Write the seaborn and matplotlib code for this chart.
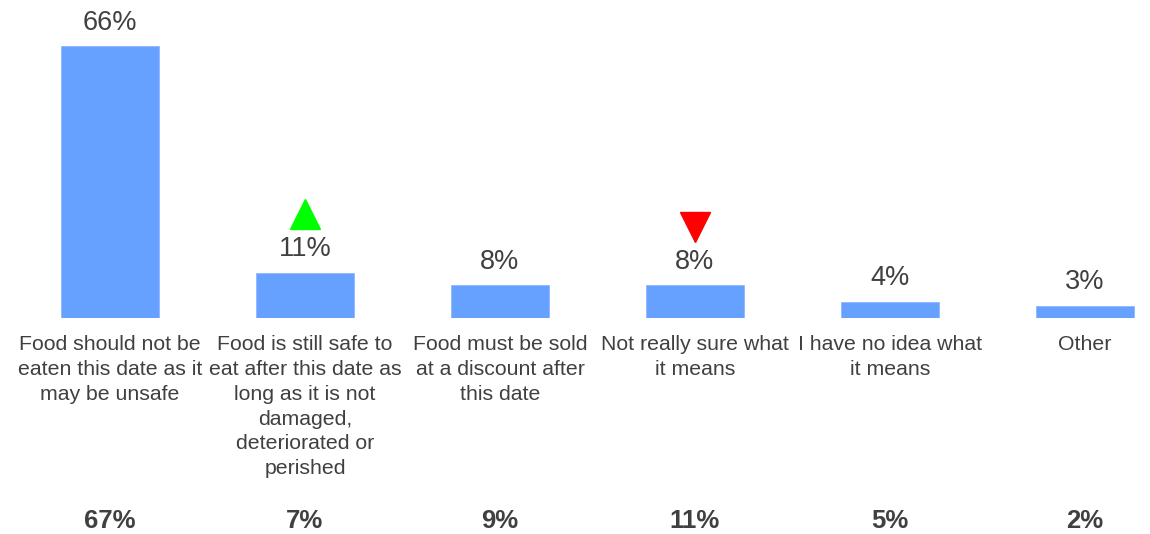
import matplotlib
matplotlib.use("Agg")
import matplotlib.pyplot as plt
import matplotlib.transforms as mtransforms
import seaborn as sns
import pandas as pd

categories = [
    "Food should not be\neaten this date as it\nmay be unsafe",
    "Food is still safe to\neat after this date as\nlong as it is not\ndamaged,\ndeteriorated or\nperished",
    "Food must be sold\nat a discount after\nthis date",
    "Not really sure what\nit means",
    "I have no idea what\nit means",
    "Other",
]
current_values = [66, 11, 8, 8, 4, 3]
previous_values = [67, 7, 9, 11, 5, 2]
trend = [None, "up", None, "down", None, None]

sns.set_theme(style="white")
plt.rcParams["font.family"] = ["Liberation Sans", "DejaVu Sans"]
TEXT = "#404040"

fig = plt.figure(figsize=(11.5, 5.34), dpi=100)
ax = fig.add_axes([0, 216 / 534, 1, 318 / 534])

df = pd.DataFrame({"cat": categories, "val": current_values})
sns.barplot(data=df, x="cat", y="val", color="#66A1FF", width=0.5,
            saturation=1, ax=ax, edgecolor="#8FB8FF", linewidth=0.6)

ax.set_xlim(-0.564, -0.564 + 1150 / 195)
ax.set_ylim(0, 318 / 4.12)
for s in ax.spines.values():
    s.set_visible(False)
ax.set_yticks([])
ax.set_xticks(range(len(categories)))
ax.set_xticklabels([""] * len(categories))
ax.set_xlabel("")
ax.set_ylabel("")
ax.tick_params(axis="x", length=0)

for i, c in enumerate(categories):
    ax.annotate(c, xy=(i, 0), xytext=(0, -12.3), textcoords="offset points",
                ha="center", va="top", fontsize=15.3, color=TEXT,
                linespacing=1.39, annotation_clip=False)

ax.bar_label(ax.containers[0], labels=[f"{v}%" for v in current_values],
             padding=7.5, fontsize=19.5, color=TEXT)

for i, v in enumerate(previous_values):
    ax.annotate(f"{v}%", xy=(i, 0), xytext=(0, -151.2), textcoords="offset points",
                ha="center", va="baseline", fontsize=18.5, fontweight="bold", color=TEXT,
                annotation_clip=False)

for i, (v, t) in enumerate(zip(current_values, trend)):
    if t is None:
        continue
    off = mtransforms.offset_copy(ax.transData, fig=fig, x=0, y=42, units="points")
    ax.plot([i], [v], marker="^" if t == "up" else "v", markersize=21.6,
            color="#00FF00" if t == "up" else "#FF0000", transform=off,
            linestyle="none", clip_on=False)

fig.savefig("out.png", dpi=100)
